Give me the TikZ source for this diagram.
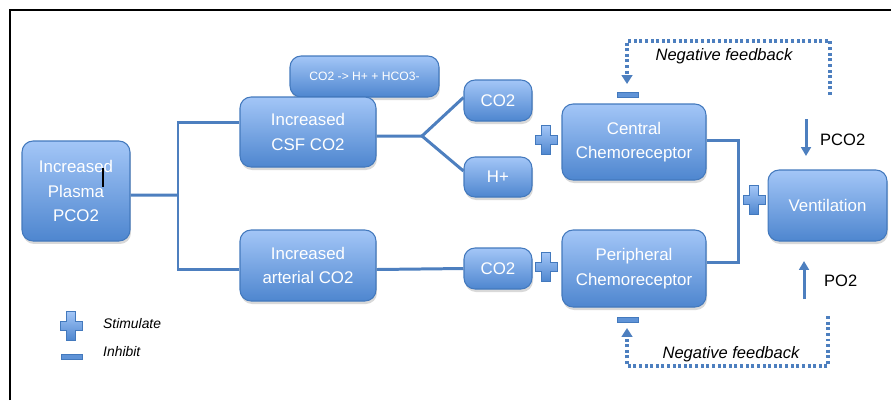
\documentclass[tikz,border=0pt]{standalone}
\usepackage{fontspec}
\setmainfont{Liberation Sans}
\usetikzlibrary{arrows.meta,shadows}

\definecolor{boxtop}{HTML}{A3C6F7}
\definecolor{boxbot}{HTML}{4E86CF}
\definecolor{boxedge}{HTML}{4379BD}
\definecolor{linkblue}{HTML}{4D7FBF}

\tikzset{
  box/.style={draw=boxedge, line width=0.6pt, rounded corners=0.22cm,
    top color=boxtop, bottom color=boxbot, text=white, align=center,
    inner sep=0pt, font=\fontsize{9.6}{14}\selectfont,
    drop shadow={opacity=0.3, shadow xshift=0.02cm, shadow yshift=-0.06cm}},
  link/.style={draw=linkblue, line width=1.7pt},
  fback/.style={draw=linkblue, line width=2pt, dash pattern=on 1.7pt off 1.5pt,
    -{Triangle[width=6pt,length=5pt]}},
  gasarrow/.style={draw=linkblue, line width=1.7pt, -{Triangle[width=5.5pt,length=5pt]}},
  fbtext/.style={font=\fontsize{9.4}{11}\selectfont\itshape},
  gastext/.style={font=\fontsize{9.4}{11}\selectfont, anchor=west},
  legtext/.style={font=\fontsize{7.9}{9}\selectfont\itshape, anchor=west},
  stimsign/.pic={
    \draw[boxedge, line width=0.5pt, top color=boxtop, bottom color=boxbot]
      (-4.2,-14.5) -- (4.2,-14.5) -- (4.2,-4.2) -- (11,-4.2) -- (11,4.2) -- (4.2,4.2)
      -- (4.2,14.5) -- (-4.2,14.5) -- (-4.2,4.2) -- (-11,4.2) -- (-11,-4.2) -- (-4.2,-4.2) -- cycle;},
  inhibsign/.pic={
    \draw[boxedge, line width=0.5pt, fill=boxbot!80!boxtop] (-10.5,-2.6) rectangle (10.5,2.6);}
}

\begin{document}
\begin{tikzpicture}[x=0.02cm, y=-0.02cm]
  \useasboundingbox (0,0) rectangle (891,400);
  % Frame
  \draw[line width=1.2pt] (10,400) -- (10,10) -- (891,10);
  % Boxes
  \node[box, minimum width=2.16cm, minimum height=2cm] (plasma) at (76,191) {Increased\\Plasma\\PCO2};
  \draw[line width=0.9pt] (103,168) -- (103,187);
  \node[box, font=\fontsize{6.9}{8}\selectfont, minimum width=2.98cm, minimum height=0.82cm] (react) at (364.5,76.5) {CO2 -> H+ + HCO3-};
  \node[box, minimum width=2.72cm, minimum height=1.4cm] (csf) at (308,132) {Increased\\CSF CO2};
  \node[box, minimum width=2.72cm, minimum height=1.42cm] (art) at (308,265.5) {Increased\\arterial CO2};
  \node[box, minimum width=1.36cm, minimum height=0.82cm] (co2a) at (498,100.5) {CO2};
  \node[box, minimum width=1.36cm, minimum height=0.8cm] (hplus) at (498,177) {H+};
  \node[box, minimum width=1.36cm, minimum height=0.82cm] (co2b) at (498,268.5) {CO2};
  \node[box, minimum width=2.88cm, minimum height=1.52cm] (central) at (634,142) {Central\\Chemoreceptor};
  \node[box, minimum width=2.88cm, minimum height=1.54cm] (peri) at (634,268.5) {Peripheral\\Chemoreceptor};
  \node[box, minimum width=2.38cm, minimum height=1.42cm] (vent) at (827.5,205.5) {Ventilation};
  % Links
  \coordinate (split) at (178,195);
  \coordinate (fork) at (422,136);
  \coordinate (join) at (738,200);
  \draw[link] ([yshift=-0.08cm]plasma.east) -- (split);
  \draw[link] ([yshift=0.2cm]csf.west) -| (split) |- ([yshift=-0.08cm]art.west);
  \draw[link] ([yshift=-0.08cm]csf.east) -- (fork);
  \draw[link] (fork) -- ([yshift=0.06cm]co2a.west);
  \draw[link] (fork) -- ([yshift=0.12cm]hplus.west);
  \draw[link] ([yshift=-0.08cm]art.east) -- (co2b.west);
  \draw[link] ([yshift=0.04cm]central.east) -| (join) |- ([yshift=0.13cm]peri.east);
  % Signs
  \pic at (546,140) {stimsign};
  \pic at (546,267) {stimsign};
  \pic at (754,200) {stimsign};
  \pic at (627.5,95) {inhibsign};
  \pic at (627.5,320) {inhibsign};
  % Feedback loops
  \coordinate (fbtopstart) at (830,95);
  \coordinate (fbtopend) at (627,84);
  \coordinate (fbbotstart) at (828,316);
  \coordinate (fbbotend) at (627,328);
  \draw[fback] (fbtopstart) -- (830,41) -| (fbtopend);
  \draw[fback] (fbbotstart) -- (828,366) -| (fbbotend);
  \node[fbtext] (fbtoplabel) at (724,56) {Negative feedback};
  \node[fbtext] (fbbotlabel) at (731,354) {Negative feedback};
  % Gas arrows
  \coordinate (pcotail) at (806,119);
  \coordinate (pcohead) at (806,156);
  \coordinate (potail) at (804,299);
  \coordinate (pohead) at (804,261);
  \draw[gasarrow] (pcotail) -- (pcohead);
  \draw[gasarrow] (potail) -- (pohead);
  \node[gastext] (pcolabel) at (814,140) {PCO2};
  \node[gastext] (polabel) at (818,281) {PO2};
  % Legend
  \pic at (71,326) {stimsign};
  \pic at (72,357) {inhibsign};
  \node[legtext] (stimlabel) at (97,324) {Stimulate};
  \node[legtext] (inhiblabel) at (97,352) {Inhibit};
\end{tikzpicture}
\end{document}
